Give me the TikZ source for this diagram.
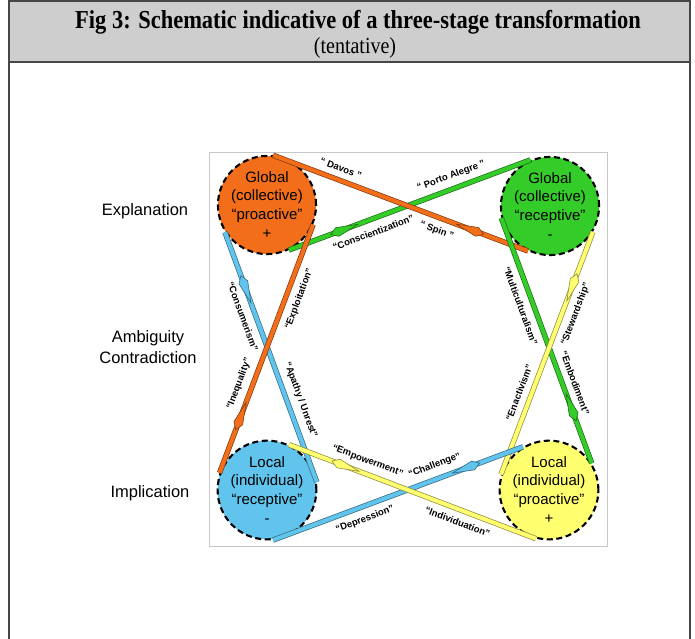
\documentclass[tikz,border=0pt]{standalone}
\usepackage{fontspec}
\setmainfont{Liberation Serif}
\newfontfamily\arialfont{Liberation Sans}
\usetikzlibrary{decorations.markings}
\definecolor{figorange}{RGB}{242,110,26}
\definecolor{figgreen}{RGB}{52,204,40}
\definecolor{figblue}{RGB}{96,196,236}
\definecolor{figyellow}{RGB}{255,255,112}
\definecolor{headgray}{RGB}{206,206,206}
\definecolor{framegray}{RGB}{70,70,70}
\tikzset{every picture/.style={line width=0.2mm}}
\tikzset{
  stage/.style={circle, draw=black, line width=2.1pt, dash pattern=on 6pt off 3.6pt,
    minimum size=96pt, inner sep=0pt, align=center,
    font=\arialfont\fontsize{15}{18.5}\selectfont},
  band/.style={draw=#1!55!black, line width=5.4pt,
    postaction={draw=#1, line width=4pt},
    postaction={decorate, decoration={markings, mark=at position 0.8 with
      {\filldraw[draw=#1!55!black, fill=#1, line width=0.6pt]
        (-22pt,0) -- (0,4.6pt) -- (7pt,0) -- (0,-4.6pt) -- cycle;}}}},
  bandlabel/.style={sloped, inner sep=1pt,
    font=\arialfont\bfseries\fontsize{9.5}{11}\selectfont},
  rowlabel/.style={align=center, font=\arialfont\fontsize{16.5}{21}\selectfont}
}
\begin{document}
\begin{tikzpicture}[x=1pt, y=-1pt]
          \useasboundingbox (0,0) rectangle (695,638);
          \fill[headgray] (9,1) rectangle (690,62);
          \draw[framegray, line width=1.6pt] (9,660) -- (9,1) -- (690,1) -- (690,660);
          \draw[framegray, line width=1.6pt] (9,62) -- (690,62);
          \node[yscale=1.15, transform shape] (title) at (358,22) {\fontsize{22.5}{24}\selectfont\bfseries Fig 3: Schematic indicative of a three-stage transformation};
          \node[yscale=1.15, transform shape] (subtitle) at (355,48) {\fontsize{20}{22}\selectfont (tentative)};
          \draw[gray!45, line width=0.8pt] (209,152) rectangle (607,546);
          \node[rowlabel] (explan) at (145,211) {Explanation};
          \node[rowlabel] (ambig) at (148,347) {Ambiguity\\Contradiction};
          \node[rowlabel] (implic) at (150,493) {Implication};
          \node[stage, fill=figorange] (go) at (267,205) {Global\\(collective)\\“proactive”\\[1pt]+};
          \node[stage, fill=figgreen] (gr) at (550,206) {Global\\(collective)\\“receptive”\\[1pt]-};
          \node[stage, fill=figblue] (lr) at (267,490) {Local\\(individual)\\“receptive”\\[1pt]-};
          \node[stage, fill=figyellow] (lp) at (549,490) {Local\\(individual)\\“proactive”\\[1pt]+};
          \draw[band=figgreen] (gr.113) -- node[bandlabel, pos=0.31, above=4.5pt] {“ Porto Alegre ”}
            node[bandlabel, pos=0.67, below=6pt] {“Conscientization”} (go.-64);
          \draw[band=figorange] (go.83) -- node[bandlabel, pos=0.25, above=4.5pt] {“ Davos ”}
            node[bandlabel, pos=0.66, below=5pt] {“ Spin ”} (gr.244);
          \draw[band=figblue] (lr.9) -- node[bandlabel, pos=0.68, below=5pt] {“Consumerism”}
            node[bandlabel, pos=0.31, above=5pt] {“Apathy / Unrest”} (go.213);
          \draw[band=figorange] (go.-23) -- node[bandlabel, pos=0.28, below=5pt] {“Exploitation”}
            node[bandlabel, pos=0.66, above=5pt] {“Inequality”} (lr.160);
          \draw[band=figgreen] (gr.194) -- node[bandlabel, pos=0.34, below=5pt] {“Multiculturalism”}
            node[bandlabel, pos=0.69, above=5pt] {“Embodiment”} (lp.32);
          \draw[band=figyellow] (lp.162) -- node[bandlabel, pos=0.68, below=5pt] {“Stewardship”}
            node[bandlabel, pos=0.32, above=5pt] {“Enactivism”} (gr.-31);
          \draw[band=figblue] (lr.-83) -- node[bandlabel, pos=0.665, above=5pt] {“Challenge”}
            node[bandlabel, pos=0.35, below=4.5pt] {“Depression”} (lp.121);
          \draw[band=figyellow] (lp.-105) -- node[bandlabel, pos=0.70, above=4.5pt] {“Empowerment”}
            node[bandlabel, pos=0.30, below=5pt] {“Individuation”} (lr.64);
\end{tikzpicture}
\end{document}
